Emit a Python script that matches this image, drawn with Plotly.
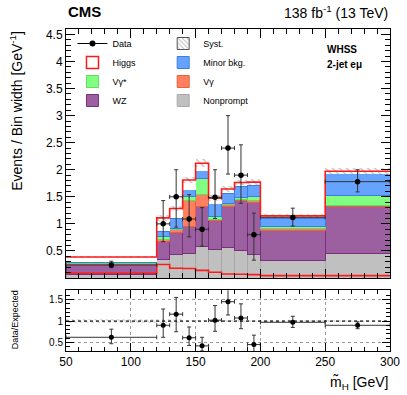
import numpy as np
import plotly.graph_objects as go

# binning (GeV)
edges = [50, 120, 130, 140, 150, 160, 170, 180, 190, 200, 250, 300]

# expected yields per bin width, bottom to top of the stack
nonprompt = [0.07, 0.35, 0.43, 0.46, 0.58, 0.53, 0.57, 0.51, 0.44, 0.33, 0.46]
wz = [0.175, 0.32, 0.41, 0.49, 0.74, 0.53, 0.76, 0.93, 0.96, 0.54, 0.87]
vgamma = [0.02, 0.04, 0.05, 0.48, 0.22, 0.03, 0.02, 0.015, 0.03, 0.04, 0.01]
vgammastar = [0.015, 0.05, 0.03, 0.08, 0.29, 0.04, 0.03, 0.03, 0.08, 0.04, 0.18]
minor = [0.02, 0.10, 0.185, 0.125, 0.15, 0.24, 0.19, 0.21, 0.20, 0.155, 0.41]
higgs = [0.087, 0.25, 0.18, 0.175, 0.14, 0.105, 0.074, 0.068, 0.062, 0.043, 0.043]
syst = [0.02, 0.05, 0.05, 0.06, 0.07, 0.05, 0.05, 0.05, 0.05, 0.04, 0.06]

# observed data
data = [0.24, 1.0, 1.5, 1.09, 0.90, 1.49, 2.40, 1.90, 0.80, 1.12, 1.78]
data_up = [0.07, 0.43, 0.50, 0.45, 0.40, 0.51, 0.60, 0.56, 0.40, 0.17, 0.22]
data_dn = [0.05, 0.33, 0.56, 0.33, 0.31, 0.39, 0.48, 0.52, 0.47, 0.16, 0.19]

# ratio panel
ratio = [0.62, 0.90, 1.16, 0.61, 0.42, 1.02, 1.45, 1.07, 0.45, 0.97, 0.90]
ratio_up = [0.19, 0.38, 0.39, 0.25, 0.20, 0.34, 0.45, 0.33, 0.22, 0.14, 0.08]
ratio_dn = [0.15, 0.28, 0.41, 0.18, 0.12, 0.26, 0.31, 0.25, 0.20, 0.12, 0.08]

centers = [(a + b) / 2 for a, b in zip(edges[:-1], edges[1:])]
widths = [b - a for a, b in zip(edges[:-1], edges[1:])]
half = [w / 2 for w in widths]
total = np.sum([nonprompt, wz, vgamma, vgammastar, minor, higgs], axis=0)
rel = np.array(syst) / total

FONT = "Liberation Sans, Arial, sans-serif"

fig = go.Figure()

stack = [
    ("Nonprompt", nonprompt, "#c0c0c0", "#a8a8a8", "legend2", 4),
    ("WZ", wz, "#9c5fa0", "#7a307e", "legend", 4),
    ("Vγ", vgamma, "#ff7f5f", "#e8603c", "legend2", 3),
    ("Vγ*", vgammastar, "#80ff80", "#60dd60", "legend", 3),
    ("Minor bkg.", minor, "#66a3ff", "#3a7ce8", "legend2", 2),
]
for name, vals, col, lcol, leg, rank in stack:
    fig.add_trace(go.Bar(x=centers, y=vals, width=widths, name=name,
                         marker=dict(color=col, line=dict(color=lcol, width=1)),
                         legend=leg, legendrank=rank, xaxis="x", yaxis="y"))

fig.add_trace(go.Bar(x=centers, y=higgs, width=widths, showlegend=False,
                     marker=dict(color="white", line=dict(width=0)),
                     xaxis="x", yaxis="y"))

# syst band
fig.add_trace(go.Bar(x=centers, y=2 * np.array(syst), base=total - np.array(syst),
                     width=widths, showlegend=False,
                     marker=dict(color="rgba(0,0,0,0)", line=dict(width=0),
                                 pattern=dict(shape="\\", fgcolor="#8a8a8a", size=5,
                                              solidity=0.3, fillmode="overlay")),
                     xaxis="x", yaxis="y"))

# red outlines: total and higgs alone
fig.add_trace(go.Scatter(x=edges, y=list(total) + [total[-1]], mode="lines",
                         line=dict(color="#ff1a1a", width=1.6, shape="hv"),
                         showlegend=False, xaxis="x", yaxis="y"))
fig.add_trace(go.Scatter(x=edges, y=higgs + [higgs[-1]], mode="lines",
                         line=dict(color="#ff1a1a", width=1.6, shape="hv"),
                         showlegend=False, xaxis="x", yaxis="y"))

fig.add_trace(go.Scatter(x=centers, y=data, mode="markers", showlegend=False,
                         marker=dict(color="black", size=5.5),
                         error_y=dict(type="data", array=data_up, arrayminus=data_dn,
                                      color="#333", thickness=1, width=2),
                         error_x=dict(type="data", array=half, color="#333",
                                      thickness=1, width=2),
                         xaxis="x", yaxis="y"))

# legend-only entries
fig.add_trace(go.Scatter(x=[None], y=[None], mode="lines+markers", name="Data",
                         marker=dict(color="black", size=6), line=dict(color="black", width=1),
                         legend="legend", legendrank=1))
fig.add_trace(go.Bar(x=[None], y=[None], name="Higgs",
                     marker=dict(color="white", line=dict(color="#ff1a1a", width=1.5)),
                     legend="legend", legendrank=2))
fig.add_trace(go.Bar(x=[None], y=[None], name="Syst.",
                     marker=dict(color="white", line=dict(color="#555", width=1),
                                 pattern=dict(shape="\\", fgcolor="#777", size=4, solidity=0.3)),
                     legend="legend2", legendrank=1))

# ratio panel
fig.add_trace(go.Bar(x=centers, y=2 * rel, base=1 - rel, width=widths, showlegend=False,
                     marker=dict(color="rgba(0,0,0,0)", line=dict(width=0),
                                 pattern=dict(shape="\\", fgcolor="#9a9a9a", size=4,
                                              solidity=0.3, fillmode="overlay")),
                     xaxis="x2", yaxis="y2"))
fig.add_trace(go.Scatter(x=centers, y=ratio, mode="markers", showlegend=False,
                         marker=dict(color="black", size=5),
                         error_y=dict(type="data", array=ratio_up, arrayminus=ratio_dn,
                                      color="#333", thickness=1, width=2),
                         error_x=dict(type="data", array=half, color="#333",
                                      thickness=1, width=2),
                         xaxis="x2", yaxis="y2"))

axis_common = dict(showline=True, linecolor="black", linewidth=1, mirror="ticks",
                   ticks="inside", tickcolor="black", zeroline=False, automargin=False)

fig.update_layout(
    width=407, height=395,
    margin=dict(l=66, r=17, t=29, b=44),
    paper_bgcolor="white", plot_bgcolor="white",
    font=dict(family=FONT, color="black"),
    barmode="stack",
    xaxis=dict(domain=[0, 1], anchor="y", range=[50, 300], showticklabels=False,
               ticklen=9, tickvals=[50, 100, 150, 200, 250, 300], showgrid=False,
               minor=dict(ticks="inside", ticklen=5, dtick=10, tick0=50, tickcolor="black"),
               **axis_common),
    yaxis=dict(domain=[0.2267, 1], anchor="x", range=[0, 4.6],
               tickvals=[0.5, 1, 1.5, 2, 2.5, 3, 3.5, 4, 4.5],
               ticktext=["0.5", "1", "1.5", "2", "2.5", "3", "3.5", "4", "4.5"],
               ticklen=9, tickfont=dict(size=12), showgrid=False,
               minor=dict(ticks="inside", ticklen=5, dtick=0.1, tick0=0, tickcolor="black"),
               **axis_common),
    xaxis2=dict(domain=[0, 1], anchor="y2", range=[50, 300],
                tickvals=[50, 100, 150, 200, 250, 300], ticklen=8,
                tickfont=dict(size=12), showgrid=True, gridcolor="#999", griddash="dot",
                minor=dict(ticks="inside", ticklen=4, dtick=10, tick0=50, tickcolor="black",
                           showgrid=False),
                **axis_common),
    yaxis2=dict(domain=[0, 0.189], anchor="x2", range=[0.3, 1.72],
                tickvals=[0.5, 1, 1.5], ticktext=["0.5", "1", "1.5"], ticklen=8,
                tickfont=dict(size=10), showgrid=True, gridcolor="#999", griddash="dot",
                minor=dict(ticks="inside", ticklen=4, dtick=0.1, tick0=0, tickcolor="black",
                           showgrid=False),
                **axis_common),
    legend=dict(x=0.02, y=1.0, xanchor="left", yanchor="top", bgcolor="rgba(0,0,0,0)",
                font=dict(size=9), itemwidth=30, tracegroupgap=0, traceorder="normal"),
    legend2=dict(x=0.30, y=1.0, xanchor="left", yanchor="top", bgcolor="rgba(0,0,0,0)",
                 font=dict(size=9), itemwidth=30, tracegroupgap=0, traceorder="normal"),
)

fig.add_shape(type="line", xref="x2", yref="y2", x0=50, x1=300, y0=1, y1=1,
              line=dict(color="black", width=1, dash="dot"))

annots = [
    dict(text="<b>CMS</b>", x=0, y=1.053, xanchor="left", yanchor="middle", font=dict(size=15)),
    dict(text="138 fb<sup>-1</sup> (13 TeV)", x=1, y=1.053, xanchor="right", yanchor="middle",
         font=dict(size=14)),
    dict(text="<b>WHSS</b>", x=0.80, y=0.935, xanchor="left", yanchor="middle", font=dict(size=10)),
    dict(text="<b>2-jet eμ</b>", x=0.80, y=0.89, xanchor="left", yanchor="middle", font=dict(size=10)),
    dict(text="Events / Bin width [GeV<sup>-1</sup>]", x=-0.155, y=1.0, xanchor="center",
         yanchor="top", textangle=-90, font=dict(size=14)),
    dict(text="Data/Expected", x=-0.157, y=0.096, xanchor="center", yanchor="middle",
         textangle=-90, font=dict(size=9)),
    dict(text="m\u0303<sub>H</sub> [GeV]", x=1, y=-0.1, xanchor="right", yanchor="middle",
         font=dict(size=14)),
]
for a in annots:
    fig.add_annotation(xref="paper", yref="paper", showarrow=False, **a)

# the page body has a default 8px margin; drop it so the figure fills the window
fig.write_html("out.html", config={"displayModeBar": False},
               post_script="document.body.style.margin='0';")
